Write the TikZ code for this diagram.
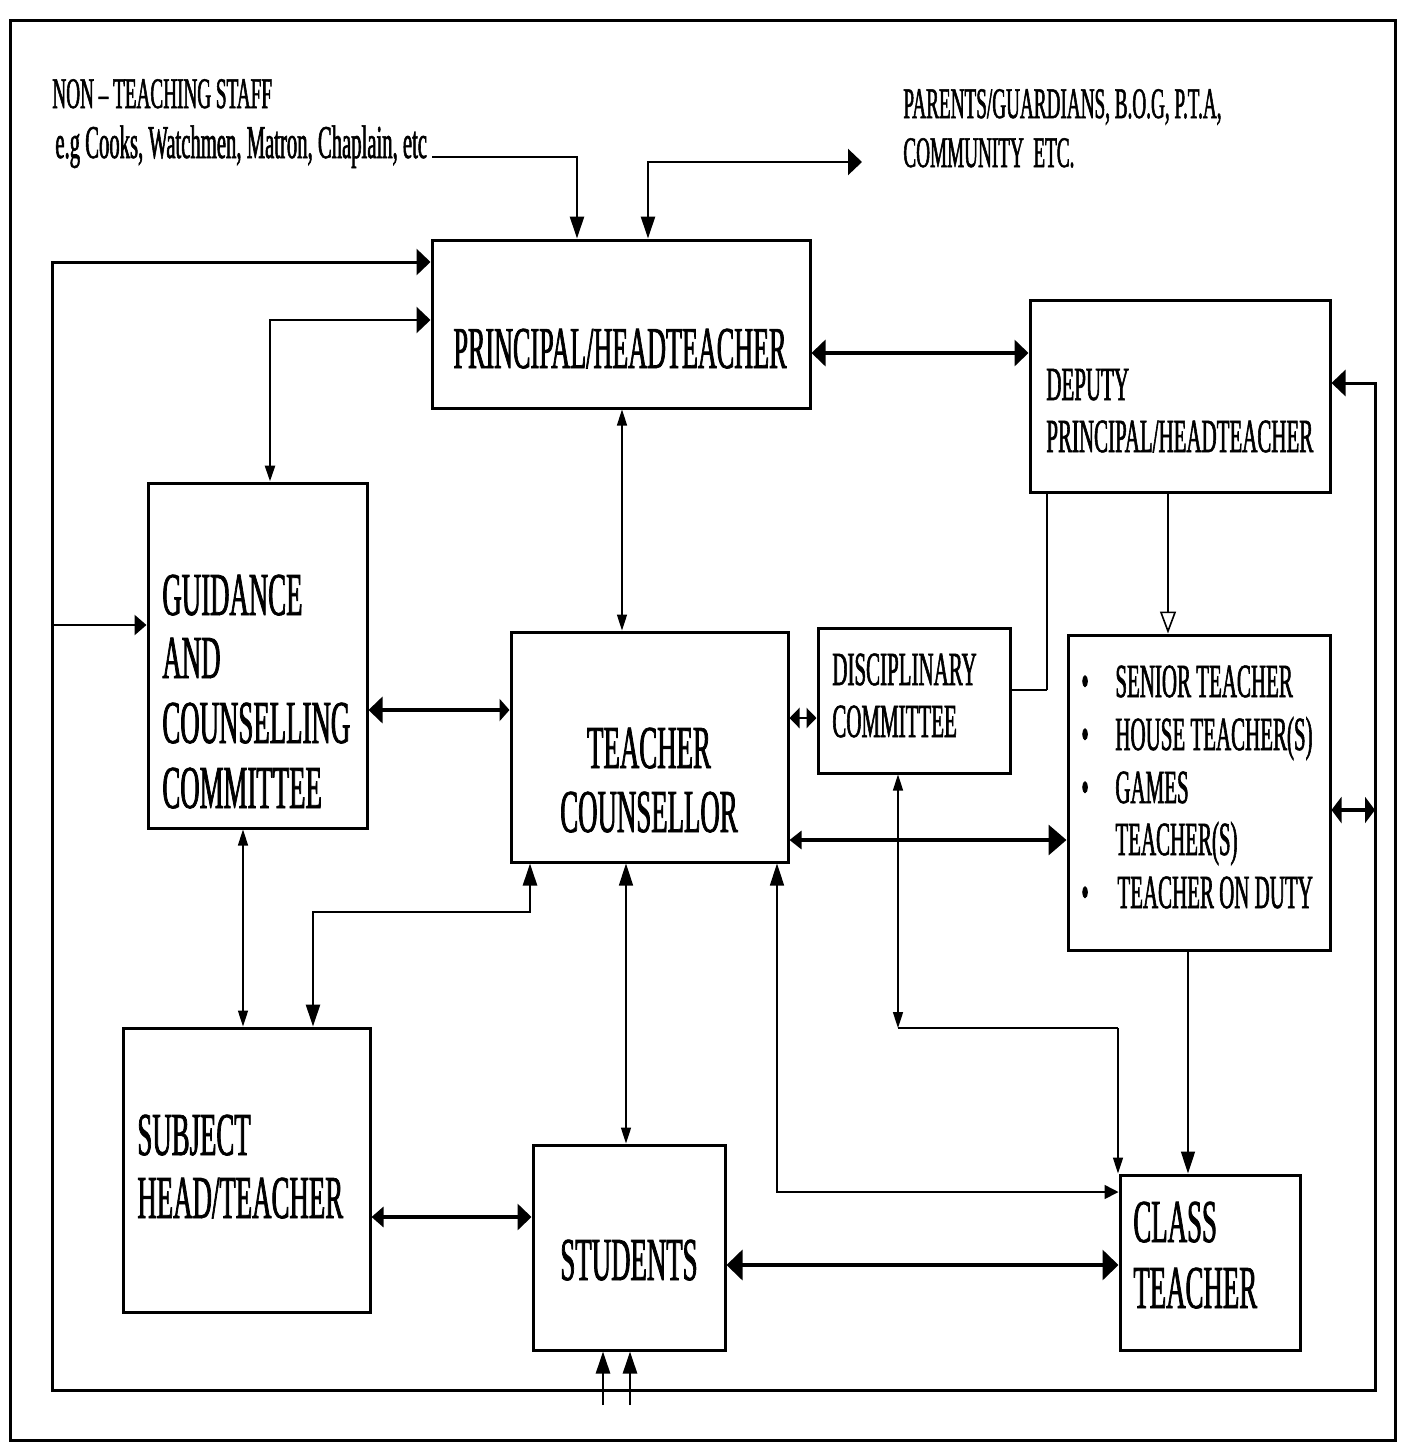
\documentclass[tikz,border=0pt]{standalone}
\usepackage{fontspec}
\setmainfont{Liberation Serif}[FakeStretch=0.44,FakeBold=1.2]
\usetikzlibrary{arrows.meta}
\tikzset{
  wide/.tip={Triangle[length=7pt,width=13pt]},
  narrow/.tip={Triangle[length=11pt,width=7pt]},
  tiny/.tip={Triangle[length=8pt,width=5pt]},
  openhead/.tip={Triangle[open,fill=white,length=11pt,width=8pt]},
  box/.style={draw,line width=1.5pt,inner sep=0pt},
  txt/.style={inner sep=0pt,anchor=base west},
  ctxt/.style={inner sep=0pt,anchor=base},
  fbig/.style={font=\fontsize{30.5}{32}\selectfont},
  fmed/.style={font=\fontsize{23.8}{26}\selectfont},
  fsmall/.style={font=\fontsize{21.8}{24}\selectfont},
  thinline/.style={line width=0.8pt},
  midline/.style={line width=1.3pt},
  thickline/.style={line width=1.8pt},
  frame/.style={line width=1.5pt},
}
\begin{document}
\begin{tikzpicture}[x=0.5pt,y=-0.5pt]
\useasboundingbox (0,0) rectangle (1415,1448);
% outer frame
\draw[frame] (10,20) rectangle (1395,1440);

% boxes
\node[box,minimum width=189pt,minimum height=84pt] (prin) at (621,324) {};
\node[box,minimum width=150pt,minimum height=96pt] (dep) at (1180,396) {};
\node[box,minimum width=109.5pt,minimum height=172.5pt] (guid) at (257.5,655.5) {};
\node[box,minimum width=138.5pt,minimum height=115pt] (tc) at (649.5,747) {};
\node[box,minimum width=96pt,minimum height=72.5pt] (disc) at (914,700.5) {};
\node[box,minimum width=131pt,minimum height=157.5pt] (sen) at (1199,792.5) {};
\node[box,minimum width=123.5pt,minimum height=142pt] (subj) at (246.5,1170) {};
\node[box,minimum width=96pt,minimum height=102.5pt] (stud) at (629,1247.5) {};
\node[box,minimum width=90pt,minimum height=87.5pt] (cls) at (1210,1262.5) {};

% texts
\node[txt,fsmall] (nt1) at (52,108) {NON – TEACHING STAFF};
\node[txt,font=\fontsize{23.5}{24}\selectfont] (nt2) at (55,158) {e.g Cooks, Watchmen, Matron, Chaplain, etc};
\node[txt,fsmall] (pg1) at (903,118) {PARENTS/GUARDIANS, B.O.G, P.T.A,};
\node[txt,fsmall] (pg2) at (903,167) {COMMUNITY\ \ ETC.};
\node[ctxt,font=\fontsize{29.7}{32}\selectfont] (prinT) at (620,368) {PRINCIPAL/HEADTEACHER};
\node[txt,fmed] (dep1) at (1046,400) {DEPUTY};
\node[txt,fmed] (dep2) at (1046,452) {PRINCIPAL/HEADTEACHER};
\node[txt,fbig] (g1) at (162,615) {GUIDANCE};
\node[txt,fbig] (g2) at (162,678) {AND};
\node[txt,fbig] (g3) at (162,743) {COUNSELLING};
\node[txt,fbig] (g4) at (162,808) {COMMITTEE};
\node[ctxt,fbig] (tc1) at (649,768) {TEACHER};
\node[ctxt,fbig] (tc2) at (649,832) {COUNSELLOR};
\node[txt,fmed] (d1) at (832,685) {DISCIPLINARY};
\node[txt,fmed] (d2) at (832,737) {COMMITTEE};
\node[txt,fmed] (b1) at (1081,697) {•};
\node[txt,fmed] (b2) at (1081,750) {•};
\node[txt,fmed] (b3) at (1081,803) {•};
\node[txt,fmed] (b4) at (1081,908) {•};
\node[txt,fmed] (s1) at (1115,697) {SENIOR TEACHER};
\node[txt,fmed] (s2) at (1115,750) {HOUSE TEACHER(S)};
\node[txt,fmed] (s3) at (1115,803) {GAMES};
\node[txt,fmed] (s4) at (1115,855) {TEACHER(S)};
\node[txt,fmed] (s5) at (1117,908) {TEACHER ON DUTY};
\node[txt,fbig] (sb1) at (137,1155) {SUBJECT};
\node[txt,fbig] (sb2) at (137,1218) {HEAD/TEACHER};
\node[ctxt,fbig] (stT) at (629,1280) {STUDENTS};
\node[txt,fbig] (c1) at (1133,1242) {CLASS};
\node[txt,fbig] (c2) at (1133,1308) {TEACHER};

% free ends
\coordinate (ntEnd) at (432,157);
\coordinate (pgEnd) at (862,162);
\coordinate (frTL) at (52,262);
\coordinate (frBL) at (52,1390);
\coordinate (frBR) at (1375,1390);
\coordinate (frTR) at (1375,383);
\coordinate (frSen) at (1375,810);
\coordinate (stA) at (603,1405);
\coordinate (stB) at (630,1405);

% top connectors
\draw[midline,-{narrow}] (ntEnd) -- (577,157) -- (577,0 |- prin.north);
\draw[midline,{narrow}-{wide}] (648,0 |- prin.north) -- (648,162) -- (pgEnd);

% inner frame loop principal -> deputy
\draw[frame,{wide}-{wide}] (prin.west |- frTL) -- (frTL) -- (frBL) -- (frBR) -- (frTR) -- (dep.east |- frTR);
\draw[midline,-{Triangle[length=6pt,width=10pt]}] (52,625) -- (guid.west |- 0,625);

% principal - guidance
\draw[midline,{tiny}-{wide}] (270,0 |- guid.north) -- (270,320) -- (prin.west |- 0,320);
% principal - deputy
\draw[thickline,{wide}-{wide}] (prin.east |- 0,353) -- (dep.west |- 0,353);
% principal - teacher counsellor
\draw[thinline,{tiny}-{tiny}] (622,0 |- prin.south) -- (622,0 |- tc.north);
% guidance - teacher counsellor
\draw[thickline,{wide}-{Triangle[length=5pt,width=11pt]}] (guid.east |- 0,710) -- (tc.west |- 0,710);
% teacher counsellor - disciplinary
\draw[midline,{Triangle[length=5pt,width=10pt]}-{Triangle[length=5pt,width=10pt]}] (tc.east |- 0,718) -- (disc.west |- 0,718);
% deputy - disciplinary
\draw[thinline] (1047,0 |- dep.south) -- (1047,690);
\draw[midline] (1047,690) -- (disc.east |- 0,690);
% deputy - senior box
\draw[thinline,-{openhead}] (1168,0 |- dep.south) -- (1168,0 |- sen.north);
% teacher counsellor - senior box
\draw[thickline,{Triangle[length=6pt,width=9pt]}-{Triangle[length=9pt,width=15pt]}] (tc.east |- 0,840) -- (sen.west |- 0,840);
% senior box - right frame
\draw[thickline,{Triangle[length=5pt,width=13pt]}-{Triangle[length=5pt,width=13pt]}] (sen.east |- frSen) -- (frSen);
% guidance - subject
\draw[thinline,{tiny}-{tiny}] (243,0 |- guid.south) -- (243,0 |- subj.north);
% teacher counsellor - subject
\draw[midline,{narrow}-{narrow}] (530,0 |- tc.south) -- (530,912) -- (313,912) -- (313,0 |- subj.north);
% teacher counsellor - students
\draw[thinline,{narrow}-{tiny}] (626,0 |- tc.south) -- (626,0 |- stud.north);
% teacher counsellor - class teacher
\draw[thinline,{narrow}-{Triangle[length=7pt,width=7pt]}] (777,0 |- tc.south) -- (777,1192) -- (cls.west |- 0,1192);
% disciplinary - class teacher
\draw[thinline,{tiny}-{tiny}] (898,0 |- disc.south) -- (898,1028);
\draw[midline] (898,1028) -- (1118,1028);
\draw[thinline,-{tiny}] (1118,1028) -- (1118,0 |- cls.north);
% senior box - class teacher
\draw[thinline,-{narrow}] (1188,0 |- sen.south) -- (1188,0 |- cls.north);
% subject - students
\draw[thickline,{Triangle[length=6pt,width=10pt]}-{wide}] (subj.east |- 0,1217) -- (stud.west |- 0,1217);
% students - class teacher
\draw[thickline,{Triangle[length=8pt,width=15pt]}-{Triangle[length=8pt,width=15pt]}] (stud.east |- 0,1265) -- (cls.west |- 0,1265);
% arrows into students from below
\draw[midline,-{narrow}] (stA) -- (stA |- stud.south);
\draw[midline,-{narrow}] (stB) -- (stB |- stud.south);
\end{tikzpicture}
\end{document}
